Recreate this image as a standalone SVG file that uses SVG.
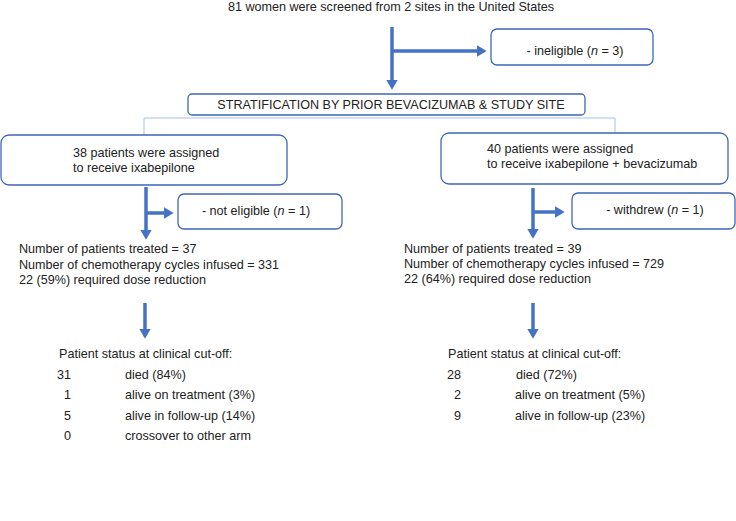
<svg xmlns="http://www.w3.org/2000/svg" width="736" height="521" viewBox="0 0 736 521">
<style>
text{font-family:"Liberation Sans",Arial,sans-serif;font-size:12.6px;fill:#222}
.box{fill:#fff;stroke:#3d67b8;stroke-width:1.3}
.arr{stroke:#4472c4;stroke-width:3.5;fill:none}
.thin{stroke:#a8c0e8;stroke-width:1;fill:none}
.c{text-anchor:middle}
.r{text-anchor:end}
</style>
<defs>
<marker id="ah" markerWidth="4" markerHeight="4" refX="1" refY="2" orient="auto" markerUnits="strokeWidth">
<path d="M0,0.3 L2.9,2 L0,3.7 Z" fill="#4472c4"/>
</marker>
</defs>
<rect width="736" height="521" fill="#fff"/>
<text class="c" x="391" y="11">81 women were screened from 2 sites in the United States</text>
<g id="connectors">
<line class="arr" x1="392" y1="27" x2="392" y2="83" marker-end="url(#ah)"/>
<line class="arr" x1="392" y1="51" x2="480" y2="51" marker-end="url(#ah)"/>
<polyline class="thin" points="144,135 144,118 615,118 615,135"/>
<line class="arr" x1="146" y1="187" x2="146" y2="233" marker-end="url(#ah)"/>
<line class="arr" x1="146" y1="213" x2="167" y2="213" marker-end="url(#ah)"/>
<line class="arr" x1="533" y1="188" x2="533" y2="232" marker-end="url(#ah)"/>
<line class="arr" x1="533" y1="212" x2="558" y2="212" marker-end="url(#ah)"/>
<line class="arr" x1="145" y1="303" x2="145" y2="332" marker-end="url(#ah)"/>
<line class="arr" x1="533" y1="303" x2="533" y2="332" marker-end="url(#ah)"/>
</g>
<g id="ineligible">
<rect class="box" x="491" y="29" width="162" height="36" rx="6"/>
<text class="c" x="575" y="55">- ineligible (<tspan font-style="italic">n</tspan> = 3)</text>
</g>
<g id="stratification">
<rect class="box" x="188" y="94" width="397" height="21" rx="4"/>
<text class="c" x="391" y="109">STRATIFICATION BY PRIOR BEVACIZUMAB &amp; STUDY SITE</text>
</g>
<g id="arm-a">
<rect class="box" x="1" y="135" width="286" height="50" rx="8"/>
<text x="73" y="157">38 patients were assigned</text>
<text x="73" y="172">to receive ixabepilone</text>
</g>
<g id="not-eligible">
<rect class="box" x="178" y="194" width="164" height="35" rx="6"/>
<text class="c" x="256" y="215">- not eligible (<tspan font-style="italic">n</tspan> = 1)</text>
</g>
<g id="treated-a">
<text x="19" y="253">Number of patients treated = 37</text>
<text x="19" y="269">Number of chemotherapy cycles infused = 331</text>
<text x="19" y="284">22 (59%) required dose reduction</text>
</g>
<g id="arm-b">
<rect class="box" x="441" y="133" width="287" height="51" rx="8"/>
<text x="487" y="153">40 patients were assigned</text>
<text x="487" y="168">to receive ixabepilone + bevacizumab</text>
</g>
<g id="withdrew">
<rect class="box" x="572" y="193" width="163" height="36" rx="6"/>
<text class="c" x="655" y="214">- withdrew (<tspan font-style="italic">n</tspan> = 1)</text>
</g>
<g id="treated-b">
<text x="404" y="253">Number of patients treated = 39</text>
<text x="404" y="268">Number of chemotherapy cycles infused = 729</text>
<text x="404" y="283">22 (64%) required dose reduction</text>
</g>
<g id="status-a">
<text x="59" y="358">Patient status at clinical cut-off:</text>
<text class="r" x="71" y="379">31</text><text x="125" y="379">died (84%)</text>
<text class="r" x="71" y="399">1</text><text x="125" y="399">alive on treatment (3%)</text>
<text class="r" x="71" y="420">5</text><text x="125" y="420">alive in follow-up (14%)</text>
<text class="r" x="71" y="440">0</text><text x="125" y="440">crossover to other arm</text>
</g>
<g id="status-b">
<text x="448" y="358">Patient status at clinical cut-off:</text>
<text class="r" x="461" y="379">28</text><text x="516" y="379">died (72%)</text>
<text class="r" x="461" y="399">2</text><text x="515" y="399">alive on treatment (5%)</text>
<text class="r" x="461" y="420">9</text><text x="515" y="420">alive in follow-up (23%)</text>
</g>
</svg>
